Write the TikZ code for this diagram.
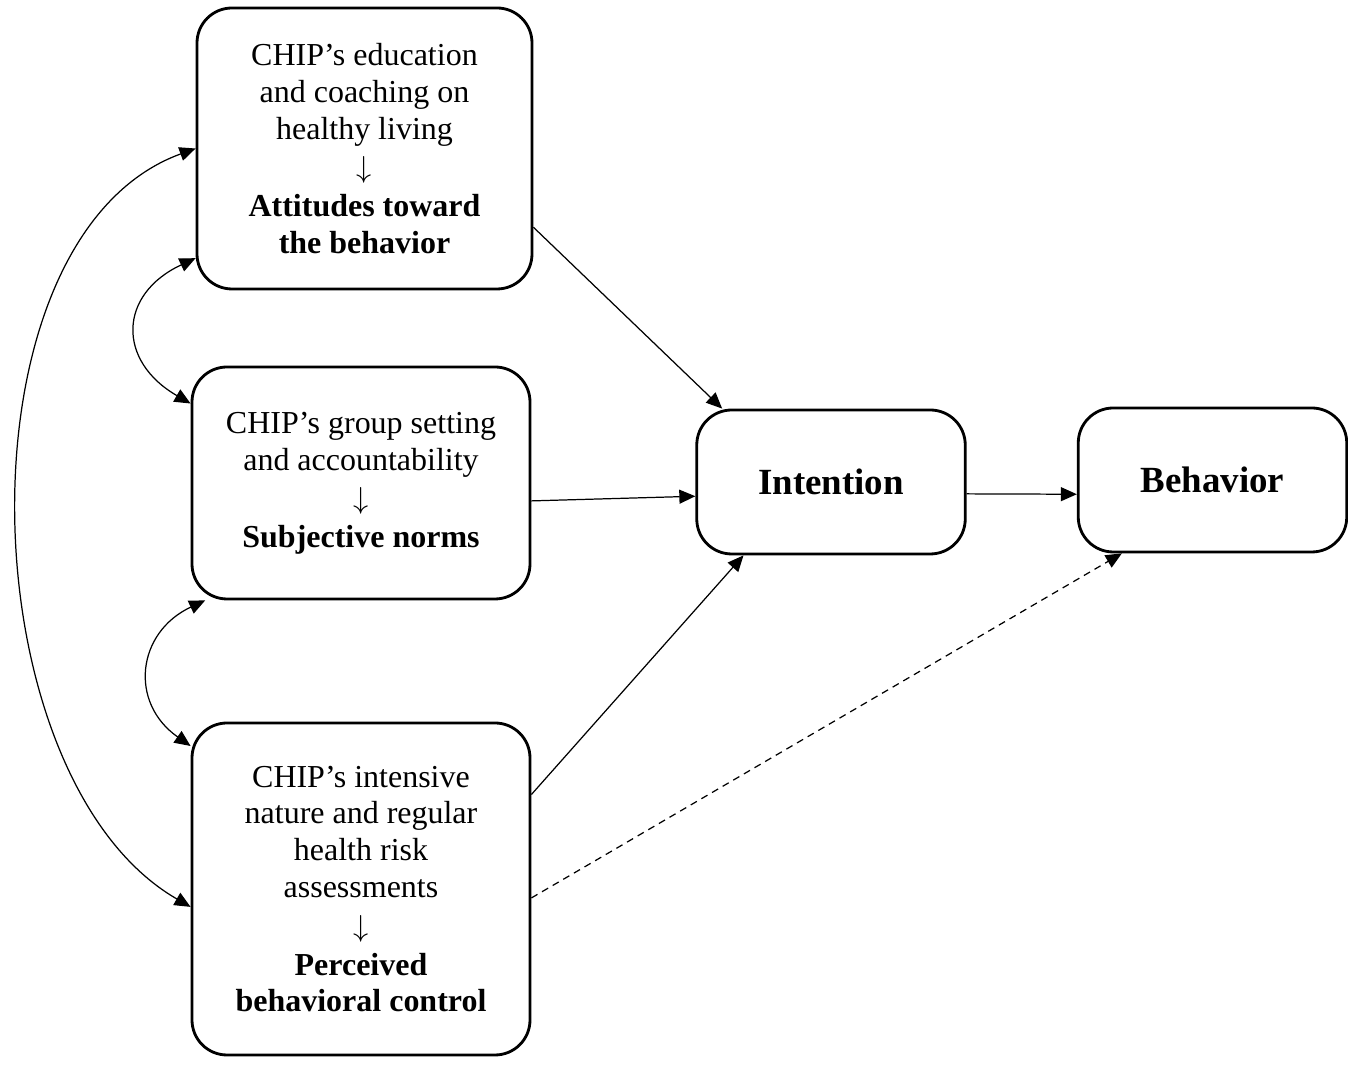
\documentclass[tikz,border=0pt]{standalone}
\usepackage{fontspec}
\setmainfont{Liberation Serif}
\usetikzlibrary{arrows.meta}
\begin{document}
\begin{tikzpicture}[
    box/.style={draw, line width=1.6pt, rounded corners=0.7cm, align=center, inner sep=0pt, font=\fontsize{18.2}{21}\selectfont},
    keybox/.style={box, minimum width=5.37cm, minimum height=2.88cm, font=\fontsize{21}{25}\selectfont\bfseries},
    link/.style={-{Triangle[length=0.32cm,width=0.28cm]}, line width=0.7pt},
    both/.style={{Triangle[length=0.32cm,width=0.28cm]}-{Triangle[length=0.32cm,width=0.28cm]}, line width=0.7pt}
]
\useasboundingbox (0,0) rectangle (26.96,21.34);

\node[box, minimum width=6.7cm, minimum height=5.62cm] (att) at (7.29,18.37) {CHIP's education\\and coaching on\\healthy living\\[1pt]$\downarrow$\\[1pt]\textbf{Attitudes toward}\\\textbf{the behavior}};
\node[box, minimum width=6.76cm, minimum height=4.64cm] (sub) at (7.22,11.68) {CHIP's group setting\\and accountability\\[1pt]$\downarrow$\\[1pt]\textbf{Subjective norms}};
\node[box, minimum width=6.76cm, minimum height=6.64cm] (per) at (7.22,3.56) {CHIP's intensive\\nature and regular\\health risk\\assessments\\[1pt]$\downarrow$\\[1pt]\textbf{Perceived}\\\textbf{behavioral control}};
\node[keybox] (int) at (16.62,11.70) {Intention};
\node[keybox] (beh) at (24.25,11.74) {Behavior};

\draw[link] (att.-25) -- (int.146);
\draw[link] (sub.-6) -- (int.186);
\draw[link] (per.29) -- (int.220);
\draw[link] (int.-5) -- (beh.186);
\draw[link, dashed, dash pattern=on 4pt off 3pt] (per.-3) -- (beh.219);

\draw[both] (att.west) to[out=200, in=150, looseness=0.87] (per.186);
\draw[both] (att.213) to[out=205, in=150, looseness=1.5] (sub.155);
\draw[both] (sub.217) to[out=205, in=145, looseness=1.32] (per.140);
\end{tikzpicture}
\end{document}
